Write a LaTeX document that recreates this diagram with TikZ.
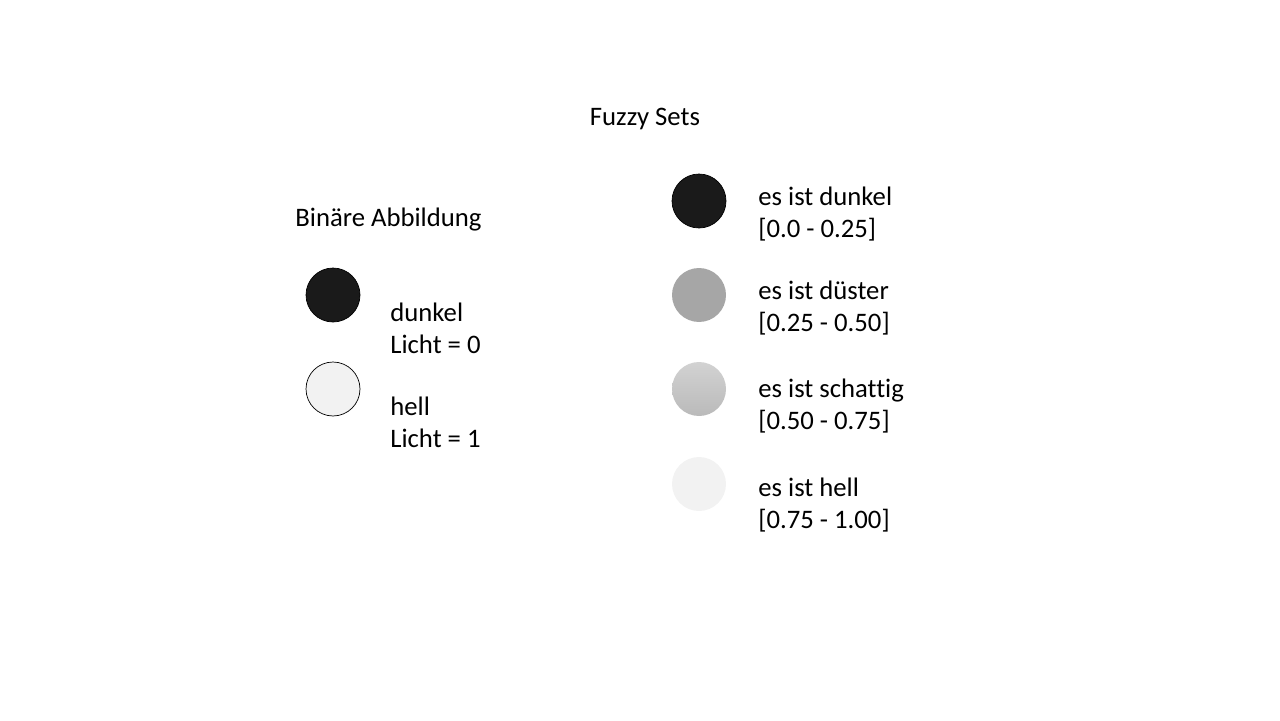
\documentclass[tikz,border=0pt]{standalone}
\usepackage{fontspec}
\setmainfont{Carlito}[Ligatures=NoCommon]
\usetikzlibrary{positioning}
\definecolor{dunkel}{HTML}{1A1A1A}
\definecolor{duester}{HTML}{A6A6A6}
\definecolor{schattigA}{HTML}{D2D2D2}
\definecolor{schattigB}{HTML}{BABABA}
\definecolor{hell}{HTML}{F2F2F2}
\begin{document}
\begin{tikzpicture}[
    x=0.02cm,y=-0.02cm,
    dot/.style={circle,minimum size=1.08cm,inner sep=0pt},
    bin/.style={dot,draw=black,thin},
    lbl/.style={font=\fontsize{15.2}{18.1}\selectfont,align=left,anchor=west,inner sep=0pt},
    head/.style={font=\fontsize{15.2}{18.1}\selectfont,inner sep=0pt},
]
    \useasboundingbox (0,0) rectangle (1280,720);

    \node[head] (title) at (645,119) {Fuzzy Sets};

    % binaer
    \node[head,anchor=west] (bintitle) at (295,220) {Binäre Abbildung};
    \node[bin,fill=dunkel] (bdark) at (333,295) {};
    \node[bin,fill=hell] (blight) at (333,389) {};
    \node[lbl] (bdarklbl) at (390,328) {dunkel\\Licht = 0};
    \node[lbl] (blightlbl) at (390,422) {hell\\Licht = 1};

    % fuzzy
    \node[dot,fill=dunkel,draw=black] (fdunkel) at (699,201) {};
    \node[dot,fill=duester] (fduester) at (699,295) {};
    \node[dot,top color=schattigA,bottom color=schattigB] (fschattig) at (699,389) {};
    \node[dot,fill=hell] (fhell) at (699,484) {};

    \node[lbl] (fdunkellbl) at (758,214) {es ist dunkel\\{}[0.0 - 0.25]};
    \node[lbl] (fduesterlbl) at (758,308) {es ist düster\\{}[0.25 - 0.50]};
    \node[lbl] (fschattiglbl) at (758,406) {es ist schattig\\{}[0.50 - 0.75]};
    \node[lbl] (fhelllbl) at (758,505) {es ist hell\\{}[0.75 - 1.00]};
\end{tikzpicture}
\end{document}
